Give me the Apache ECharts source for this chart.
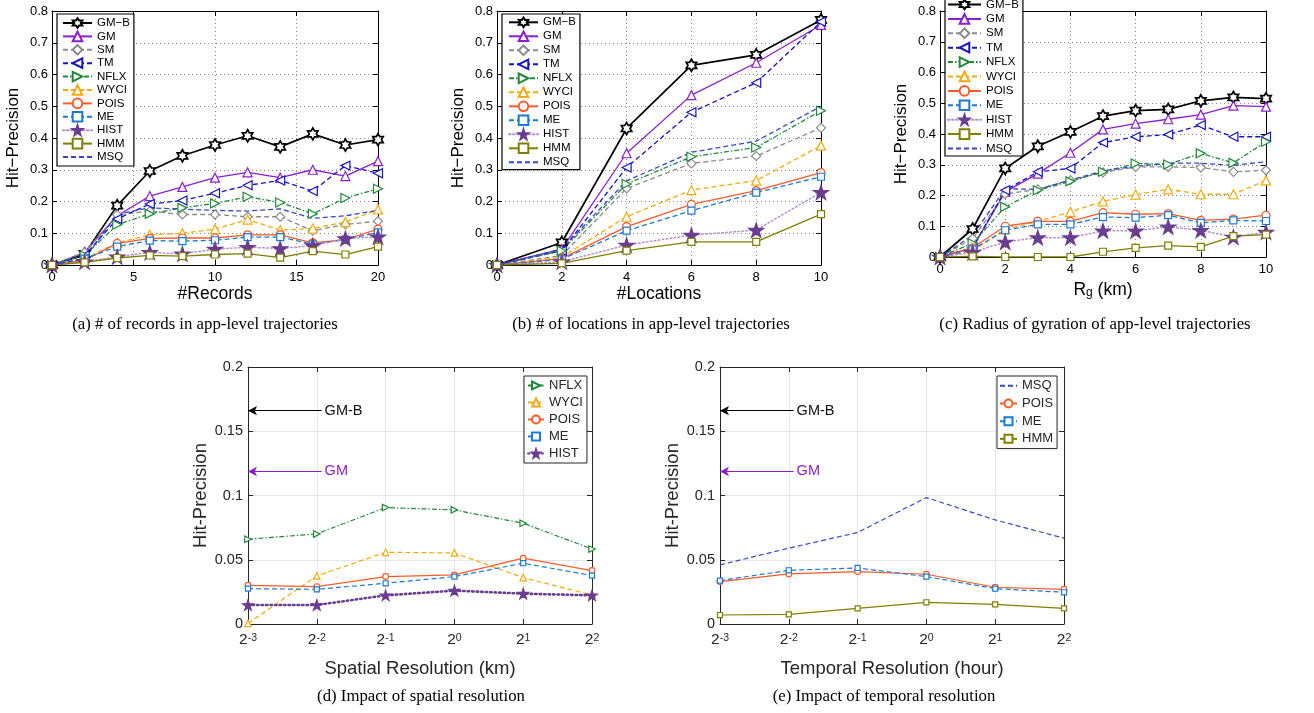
<!DOCTYPE html>
<html><head><meta charset="utf-8">
<script src="https://cdn.jsdelivr.net/npm/echarts@6/dist/echarts.min.js"></script>
<style>html,body{margin:0;padding:0;background:#fff}#c{width:1314px;height:713px}</style>
</head><body><div id="c"></div>
<script>
// ---------------- DATA ----------------
const methodsABC = ['GM-B','GM','SM','TM','NFLX','WYCI','POIS','ME','HIST','HMM','MSQ'];

// (a) # of records
const xRecords = [0,2,4,6,8,10,12,14,16,18,20];
const a_GMB  = [0,0.035,0.187,0.296,0.344,0.378,0.407,0.372,0.413,0.378,0.395];
const a_GM   = [0,0.040,0.155,0.217,0.246,0.275,0.292,0.275,0.300,0.280,0.327];
const a_SM   = [0,0.040,0.158,0.170,0.159,0.159,0.152,0.152,0.108,0.128,0.138];
const a_TM   = [0,0.030,0.145,0.192,0.203,0.226,0.251,0.266,0.233,0.313,0.289];
const a_NFLX = [0,0.030,0.127,0.161,0.180,0.194,0.215,0.197,0.161,0.211,0.240];
const a_WYCI = [0,0.020,0.070,0.095,0.100,0.113,0.143,0.110,0.115,0.135,0.175];
const a_POIS = [0,0.015,0.068,0.084,0.085,0.085,0.095,0.095,0.070,0.080,0.113];
const a_ME   = [0,0.020,0.058,0.077,0.075,0.078,0.088,0.088,0.065,0.080,0.103];
const a_HIST = [0,0.010,0.026,0.040,0.035,0.050,0.056,0.052,0.061,0.083,0.089];
const a_HMM  = [0,0.008,0.022,0.030,0.028,0.033,0.036,0.023,0.044,0.033,0.058];
const a_MSQ  = [0,0.020,0.160,0.180,0.176,0.172,0.170,0.177,0.147,0.155,0.172];

// (b) # of locations
const xLocations = [0,2,4,6,8,10];
const b_GMB  = [0,0.071,0.430,0.629,0.662,0.772];
const b_GM   = [0,0.050,0.352,0.535,0.637,0.756];
const b_SM   = [0,0.030,0.241,0.320,0.343,0.432];
const b_TM   = [0,0.045,0.307,0.481,0.574,0.766];
const b_NFLX = [0,0.045,0.255,0.341,0.370,0.486];
const b_WYCI = [0,0.025,0.152,0.236,0.266,0.376];
const b_POIS = [0,0.020,0.121,0.191,0.234,0.291];
const b_ME   = [0,0.018,0.108,0.171,0.228,0.278];
const b_HIST = [0,0.010,0.063,0.094,0.110,0.229];
const b_HMM  = [0,0.005,0.045,0.073,0.073,0.160];
const b_MSQ  = [0,0.050,0.265,0.355,0.390,0.500];

// (c) radius of gyration (km)
const xRg = [0,1,2,3,4,5,6,7,8,9,10];
const c_GMB  = [0,0.091,0.288,0.360,0.407,0.458,0.476,0.480,0.508,0.519,0.515];
const c_GM   = [0,0.030,0.212,0.271,0.339,0.415,0.434,0.448,0.463,0.492,0.489];
const c_SM   = [0,0.060,0.205,0.220,0.250,0.275,0.293,0.293,0.291,0.277,0.282];
const c_TM   = [0,0.030,0.217,0.277,0.288,0.372,0.391,0.398,0.429,0.391,0.391];
const c_NFLX = [0,0.045,0.163,0.217,0.246,0.277,0.304,0.301,0.337,0.306,0.375];
const c_WYCI = [0,0.020,0.090,0.115,0.147,0.181,0.203,0.220,0.204,0.204,0.249];
const c_POIS = [0,0.030,0.100,0.116,0.116,0.144,0.139,0.141,0.119,0.123,0.136];
const c_ME   = [0,0.025,0.087,0.106,0.106,0.130,0.128,0.136,0.111,0.119,0.117];
const c_HIST = [0,0.015,0.049,0.063,0.063,0.085,0.085,0.098,0.087,0.065,0.081];
const c_HMM  = [0,0.002,0,0,0,0.017,0.030,0.037,0.033,0.068,0.073];
const c_MSQ  = [0,0.070,0.222,0.220,0.250,0.280,0.295,0.305,0.305,0.298,0.310];

// (d) spatial resolution, x = log2(km)
const xSpatialExp = [-3,-2,-1,0,1,2];
const d_NFLX = [0.0660,0.0701,0.0906,0.0888,0.0784,0.0584];
const d_WYCI = [0.0005,0.0374,0.0558,0.0553,0.0361,0.0226];
const d_POIS = [0.0301,0.0291,0.0369,0.0382,0.0512,0.0416];
const d_ME   = [0.0275,0.0270,0.0317,0.0369,0.0473,0.0377];
const d_HIST = [0.0148,0.0148,0.0223,0.0260,0.0236,0.0223];

// (e) temporal resolution, x = log2(hour)
const xTemporalExp = [-3,-2,-1,0,1,2];
const e_MSQ  = [0.0460,0.0590,0.0712,0.0984,0.0810,0.0668];
const e_POIS = [0.0330,0.0390,0.0408,0.0387,0.0286,0.0270];
const e_ME   = [0.0338,0.0418,0.0436,0.0369,0.0275,0.0247];
const e_HMM  = [0.0070,0.0075,0.0122,0.0169,0.0153,0.0122];

// reference levels shown as arrows in (d),(e)
const refGMB = 0.166;
const refGM  = 0.1187;
const arrowTailExp = -1.93;

const yTicksABC = [0,0.1,0.2,0.3,0.4,0.5,0.6,0.7,0.8];
const yTicksDE  = [0,0.05,0.1,0.15,0.2];

// ---------------- STYLE ----------------
const FONT = '"Liberation Sans", Arial, Helvetica, sans-serif';
const SERIF = '"Liberation Serif", "Times New Roman", serif';
const HEX = 'path://M0,-10L2.887,-5L8.66,-5L5.774,0L8.66,5L2.887,5L0,10L-2.887,5L-8.66,5L-5.774,0L-8.66,-5L-2.887,-5Z';
const STAR = 'path://M0,-10L2.245,-3.09L9.511,-3.09L3.633,1.18L5.878,8.09L0,3.82L-5.878,8.09L-3.633,1.18L-9.511,-3.09L-2.245,-3.09Z';
const LTRI = 'path://M0,5L10,0L10,10Z';
const RTRI = 'path://M0,0L10,5L0,10Z';
const DASH = [5,3], DASHDOT = [5,2,1.5,2], DOT = [1.5,2.5];

const STY = {
  'GM-B': {c:'#000000', sym:HEX,        sz:12, lt:'solid', lw:1.7, bw:1.7},
  'GM':   {c:'#8a1fd0', sym:'triangle', sz:9,  lt:'solid', lw:1.3},
  'SM':   {c:'#8c8c8c', sym:'diamond',  sz:9,  lt:DASH,    lw:1.3},
  'TM':   {c:'#1414c4', sym:LTRI,       sz:9,  lt:DASH,    lw:1.3},
  'NFLX': {c:'#208a38', sym:RTRI,       sz:9,  lt:DASHDOT, lw:1.3},
  'WYCI': {c:'#f5aa10', sym:'triangle', sz:9,  lt:DASH,    lw:1.3},
  'POIS': {c:'#ff5a2c', sym:'circle',   sz:8,  lt:'solid', lw:1.3},
  'ME':   {c:'#1a7ad4', sym:'rect',     sz:7,  lt:DASH,    lw:1.3},
  'HIST': {c:'#6b3d91', sym:STAR,       sz:15, lt:DOT,     lw:1.5, line:'#b68ccd', filled:true},
  'HMM':  {c:'#7f7f00', sym:'rect',     sz:7,  lt:'solid', lw:1.3},
  'MSQ':  {c:'#3347c8', sym:'none',     sz:0,  lt:DASH,    lw:1.3}
};

const dataABC = {
  a: {x:xRecords,   v:{'GM-B':a_GMB,'GM':a_GM,'SM':a_SM,'TM':a_TM,'NFLX':a_NFLX,'WYCI':a_WYCI,'POIS':a_POIS,'ME':a_ME,'HIST':a_HIST,'HMM':a_HMM,'MSQ':a_MSQ}},
  b: {x:xLocations, v:{'GM-B':b_GMB,'GM':b_GM,'SM':b_SM,'TM':b_TM,'NFLX':b_NFLX,'WYCI':b_WYCI,'POIS':b_POIS,'ME':b_ME,'HIST':b_HIST,'HMM':b_HMM,'MSQ':b_MSQ}},
  c: {x:xRg,        v:{'GM-B':c_GMB,'GM':c_GM,'SM':c_SM,'TM':c_TM,'NFLX':c_NFLX,'WYCI':c_WYCI,'POIS':c_POIS,'ME':c_ME,'HIST':c_HIST,'HMM':c_HMM,'MSQ':c_MSQ}}
};
const dataD = {x:xSpatialExp,  names:['NFLX','WYCI','POIS','ME','HIST'], v:{'NFLX':d_NFLX,'WYCI':d_WYCI,'POIS':d_POIS,'ME':d_ME,'HIST':d_HIST}};
const dataE = {x:xTemporalExp, names:['MSQ','POIS','ME','HMM'],          v:{'MSQ':e_MSQ,'POIS':e_POIS,'ME':e_ME,'HMM':e_HMM}};

// ---------------- BUILD ----------------
const grids = [], xAxes = [], yAxes = [], series = [], legends = [];

function addPanel(gi, g, xc, yc, small) {
  grids.push(Object.assign({containLabel:false}, g));
  const frame = small ? '#262626' : '#000';
  const gridLine = small ? {color:'#e6e6e6', type:'solid', width:1} : {color:'#8a8a8a', type:[1,3], width:1};
  const tickStyle = {inside:true, length:5, lineStyle:{color:frame, width:1}};
  const base = {gridIndex:gi, type:'value', min:xc.min, max:xc.max, interval:xc.interval};
  xAxes.push(Object.assign({}, base, {
    position:'bottom',
    axisLine:{show:true, onZero:false, lineStyle:{color:frame, width:1}},
    axisTick:tickStyle,
    axisLabel:xc.label,
    splitLine:{show:true, lineStyle:gridLine},
    name:xc.name, nameLocation:'middle', nameGap:xc.nameGap, nameTextStyle:xc.nameStyle
  }));
  xAxes.push(Object.assign({}, base, {
    position:'top',
    axisLine:{show:true, onZero:false, lineStyle:{color:frame, width:1}},
    axisTick:tickStyle, axisLabel:{show:false}, splitLine:{show:false}
  }));
  const ybase = {gridIndex:gi, type:'value', min:0, max:yc.max, interval:yc.interval};
  yAxes.push(Object.assign({}, ybase, {
    position:'left',
    axisLine:{show:true, onZero:false, lineStyle:{color:frame, width:1}},
    axisTick:tickStyle,
    axisLabel:yc.label,
    splitLine:{show:true, lineStyle:gridLine},
    name:yc.name, nameLocation:'middle', nameGap:yc.nameGap, nameTextStyle:yc.nameStyle
  }));
  yAxes.push(Object.assign({}, ybase, {
    position:'right',
    axisLine:{show:true, onZero:false, lineStyle:{color:frame, width:1}},
    axisTick:tickStyle, axisLabel:{show:false}, splitLine:{show:false}
  }));
}

function addSeries(gi, prefix, name, xs, ys, small, extra) {
  const s = STY[name];
  const scale = small ? 0.72 : 1;
  let lineColor = s.line || s.c;
  let lw = s.lw, lt = s.lt;
  if (small && name === 'HIST') { lineColor = s.c; lw = 2.6; lt = [1.5,3]; }
  if (small) lw = Math.min(lw, name === 'HIST' ? 2.6 : 1.2);
  const ser = {
    type:'line', name:prefix + ':' + name,
    xAxisIndex:2*gi, yAxisIndex:2*gi,
    data:xs.map((x,i)=>[x, ys[i]]),
    symbol:s.sym, symbolSize:s.sz*scale, symbolKeepAspect:true,
    showSymbol:s.sym !== 'none',
    lineStyle:{color:lineColor, width:lw, type:lt, cap:(name==='HIST'?'round':'butt')},
    itemStyle:{color:s.filled ? s.c : '#ffffff', borderColor:s.c, borderWidth:s.bw || 1.2},
    silent:true, animation:false, emphasis:{disabled:true}
  };
  Object.assign(ser, extra || {});
  series.push(ser);
}

const tickLabelABC = {fontSize:13, color:'#000', fontFamily:FONT, margin:6};
const yLabelABC = {fontSize:13, color:'#000', fontFamily:FONT, margin:4, formatter:v => String(+v.toFixed(2))};
const yNameABC = {fontSize:17, color:'#000', fontFamily:FONT};
const xNameABC = {fontSize:17.5, color:'#000', fontFamily:FONT};

// (a)
addPanel(0, {left:52, top:11, width:326, height:254},
  {min:0, max:20, interval:5, label:tickLabelABC, name:'#Records', nameGap:16, nameStyle:xNameABC},
  {max:0.8, interval:0.1, label:yLabelABC, name:'Hit\u2212Precision', nameGap:30, nameStyle:yNameABC}, false);
// (b)
addPanel(1, {left:497, top:11, width:324, height:254},
  {min:0, max:10, interval:2, label:tickLabelABC, name:'#Locations', nameGap:15, nameStyle:xNameABC},
  {max:0.8, interval:0.1, label:yLabelABC, name:'Hit\u2212Precision', nameGap:30, nameStyle:yNameABC}, false);
// (c)
addPanel(2, {left:940, top:11, width:326, height:246},
  {min:0, max:10, interval:2, label:tickLabelABC, name:'{n|R}{g|g}{n| (km)}', nameGap:16,
   nameStyle:{fontSize:17.5, color:'#000', fontFamily:FONT, rich:{
     n:{fontSize:17.5, color:'#000', fontFamily:FONT, lineHeight:18, verticalAlign:'top'},
     g:{fontSize:12, color:'#000', fontFamily:FONT, lineHeight:12, padding:[10,0,0,0], verticalAlign:'bottom'}}}},
  {max:0.8, interval:0.1, label:yLabelABC, name:'Hit\u2212Precision', nameGap:30, nameStyle:yNameABC}, false);

const supRich = {
  b:{fontSize:15.5, fontFamily:FONT, color:'#262626', lineHeight:15, verticalAlign:'bottom'},
  s:{fontSize:10.5, fontFamily:FONT, color:'#262626', lineHeight:10, padding:[0,0,7,0], verticalAlign:'top'}
};
const xLabelDE = {margin:9, formatter:v => '{b|2}{s|' + v + '}', rich:supRich};
const yLabelDE = {fontSize:14.5, color:'#262626', fontFamily:FONT, margin:5, formatter:v => String(+v.toFixed(2))};
const nameDE = {fontSize:18.5, color:'#262626', fontFamily:FONT};

// (d)
addPanel(3, {left:248, top:367, width:344, height:257},
  {min:-3, max:2, interval:1, label:xLabelDE, name:'Spatial Resolution (km)', nameGap:35, nameStyle:nameDE},
  {max:0.2, interval:0.05, label:yLabelDE, name:'Hit-Precision', nameGap:36, nameStyle:nameDE}, true);
// (e)
addPanel(4, {left:720, top:367, width:344, height:257},
  {min:-3, max:2, interval:1, label:xLabelDE, name:'Temporal Resolution (hour)', nameGap:35, nameStyle:nameDE},
  {max:0.2, interval:0.05, label:yLabelDE, name:'Hit-Precision', nameGap:37, nameStyle:nameDE}, true);

['a','b','c'].forEach((p, gi) => {
  methodsABC.forEach(n => addSeries(gi, p, n, dataABC[p].x, dataABC[p].v[n], false));
});

function arrowMark() {
  const lab = (txt, col) => ({show:true, position:'end', formatter:txt, color:col, fontSize:14.5, fontFamily:FONT, distance:3});
  return {markLine:{silent:true, animation:false, symbol:['arrow','none'], symbolSize:[7,9],
    data:[
      [{coord:[-3, refGMB], lineStyle:{color:'#000', width:1.2, type:'solid'}, label:lab('GM-B','#111')}, {coord:[arrowTailExp, refGMB]}],
      [{coord:[-3, refGM], lineStyle:{color:'#8a1fd0', width:1.2, type:'solid'}, label:lab('GM','#8a1fd0')}, {coord:[arrowTailExp, refGM]}]
    ]}};
}
dataD.names.forEach((n, i) => addSeries(3, 'd', n, dataD.x, dataD.v[n], true, i === 0 ? arrowMark() : null));
dataE.names.forEach((n, i) => addSeries(4, 'e', n, dataE.x, dataE.v[n], true, i === 0 ? arrowMark() : null));

const strip = n => n.slice(2);
const stripMinus = n => n.slice(2).replace('-', '\u2212');
function legendCfg(prefix, names, pos, opt) {
  return Object.assign({
    orient:'vertical', selectedMode:false, backgroundColor:'#fff',
    borderColor:'#000', borderWidth:1.2, borderRadius:0,
    data:names.map(n => {
      const full = prefix + ':' + n;
      if (STY[n].sym === 'none') return {name:full, itemStyle:{opacity:0, color:'rgba(0,0,0,0)', borderColor:'rgba(0,0,0,0)'}};
      return full;
    }),
    formatter: prefix === 'd' || prefix === 'e' ? strip : stripMinus
  }, pos, opt);
}
legends.push(legendCfg('a', methodsABC, {left:57, top:14}, {padding:[3,4,3,5], itemWidth:29, itemHeight:12, itemGap:1.4,
  textStyle:{fontSize:11.5, fontFamily:FONT, color:'#000', lineHeight:12}}));
legends.push(legendCfg('b', methodsABC, {left:502, top:14}, {padding:[2,4,1,6], itemWidth:29, itemHeight:12, itemGap:1.4,
  textStyle:{fontSize:11.5, fontFamily:FONT, color:'#000', lineHeight:12.6}}));
legends.push(legendCfg('c', methodsABC, {left:945, top:-3}, {padding:[1,4,1,2], itemWidth:33, itemHeight:12, itemGap:1.4,
  textStyle:{fontSize:11.5, fontFamily:FONT, color:'#000', lineHeight:13}}));
legends.push(legendCfg('d', dataD.names, {left:524, top:376}, {padding:[3,4,3,3], itemWidth:16, itemHeight:10, itemGap:4,
  borderColor:'#262626', borderWidth:1, textStyle:{fontSize:13, fontFamily:FONT, color:'#262626', lineHeight:13}}));
legends.push(legendCfg('e', dataE.names, {left:997, top:376}, {padding:[3,4,3,2], itemWidth:17, itemHeight:10, itemGap:4.2,
  borderColor:'#262626', borderWidth:1, textStyle:{fontSize:13, fontFamily:FONT, color:'#262626', lineHeight:13.5}}));

const captions = [
  {t:'(a) # of records in app-level trajectories', x:205, y:325},
  {t:'(b) # of locations in app-level trajectories', x:651, y:325},
  {t:'(c) Radius of gyration of app-level trajectories', x:1095, y:325},
  {t:'(d) Impact of spatial resolution', x:421, y:697},
  {t:'(e) Impact of temporal resolution', x:884, y:697}
];

const chart = echarts.init(document.getElementById('c'), null, {renderer:'canvas'});
chart.setOption({
  animation:false,
  backgroundColor:'#ffffff',
  grid:grids, xAxis:xAxes, yAxis:yAxes, series:series, legend:legends,
  graphic:captions.map(c => ({type:'text', x:c.x, y:c.y, silent:true,
    style:{text:c.t, font:'16.8px ' + SERIF, fill:'#000', textAlign:'center', textVerticalAlign:'middle'}}))
});
</script></body></html>
